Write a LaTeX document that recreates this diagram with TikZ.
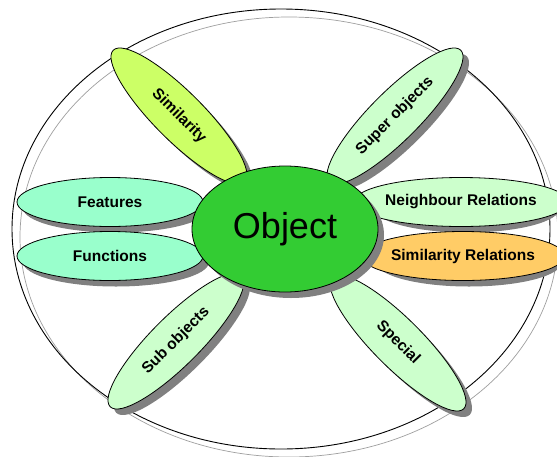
\documentclass[tikz,border=0pt]{standalone}
\usepackage{fontspec}
\setmainfont{Liberation Sans}
\usetikzlibrary{shapes.geometric}
\definecolor{objgreen}{HTML}{33CC33}
\definecolor{limec}{HTML}{CCFF66}
\definecolor{palec}{HTML}{CCFFCC}
\definecolor{aquac}{HTML}{99FFCC}
\definecolor{orangec}{HTML}{FFCC66}
\definecolor{shadowc}{HTML}{808080}
\tikzset{
  petal/.style={ellipse, draw=black, line width=0.8pt, minimum width=186pt, minimum height=49pt,
    inner sep=0pt, font=\bfseries\fontsize{15.5}{18}\selectfont},
  pshadow/.style={fill=shadowc},
  centre/.style={ellipse, draw=black, line width=0.8pt, fill=objgreen, minimum width=186pt,
    minimum height=126pt, inner sep=0pt, font=\fontsize{36}{40}\selectfont},
}
\begin{document}
\begin{tikzpicture}[x=1pt,y=-1pt]
\useasboundingbox (0,0) rectangle (557,456);
\fill[white] (0,0) rectangle (557,456);
% outer ring
\draw[gray!75, line width=0.7pt] (289,237) ellipse [x radius=269, y radius=220];
\draw[black, line width=0.9pt] (281,229) ellipse [x radius=269, y radius=220];
% petal shadows
\fill[pshadow] (116,208) ellipse [x radius=93, y radius=24.5];
\fill[pshadow] (116,262) ellipse [x radius=93, y radius=24.5];
\fill[pshadow] (467,208) ellipse [x radius=93, y radius=24.5];
\fill[pshadow] (469,262) ellipse [x radius=93, y radius=24.5];
\fill[pshadow, rotate around={-45:(185,122)}] (185,122) ellipse [x radius=93, y radius=24.5];
\fill[pshadow, rotate around={45:(401,122)}] (401,122) ellipse [x radius=93, y radius=24.5];
\fill[pshadow, rotate around={45:(182,347)}] (182,347) ellipse [x radius=93, y radius=24.5];
\fill[pshadow, rotate around={-45:(404,349)}] (404,349) ellipse [x radius=93, y radius=24.5];
% petals
\node[petal, fill=aquac] (feat) at (110,202) {Features};
\node[petal, fill=aquac] (func) at (110,256) {Functions};
\node[petal, fill=palec] (neigh) at (461,202) {Neighbour Relations};
\node[petal, fill=orangec] (simrel) at (463,256) {Similarity Relations};
\node[petal, fill=limec, rotate=-45] (sim) at (179,116) {Similarity};
\node[petal, fill=palec, rotate=45] (sup) at (395,116) {Super objects};
\node[petal, fill=palec, rotate=45] (sub) at (176,341) {Sub objects};
\node[petal, fill=palec, rotate=-45] (spe) at (398,343) {Special};
% centre
\fill[shadowc] (291,235) ellipse [x radius=93, y radius=63];
\node[centre] (obj) at (285,229) {Object};
\end{tikzpicture}
\end{document}
